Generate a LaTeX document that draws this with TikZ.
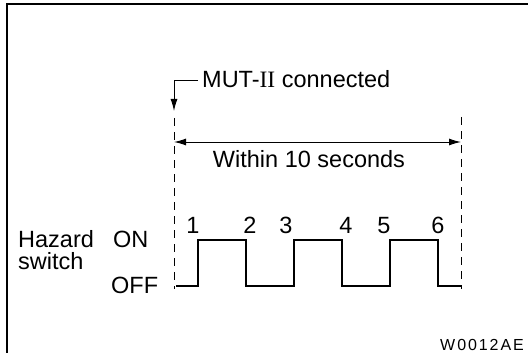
\documentclass[tikz,border=0pt]{standalone}
\usepackage{fontspec}
\setmainfont{Liberation Sans}
\newfontfamily\romfont{Liberation Serif}
\usepackage{tikz}
\usetikzlibrary{arrows.meta,
                positioning}

\tikzset{
    lbl/.style={anchor=base, inner sep=0pt, font=\fontsize{23.5}{28}\selectfont},
    guide/.style={line width=1pt, dash pattern=on 8pt off 6pt},
    wave/.style={line width=1.6pt},
    tip/.style={-{Latex[length=12pt,width=7pt]}, line width=1pt}
}

\begin{document}
\begin{tikzpicture}[x=1pt,y=-1pt]
        \useasboundingbox (0,0) rectangle (528,353);

        % frame
        \draw[line width=2pt] (7,353) -- (7,4.5) -- (528,4.5);

        % start / end of the window
        \coordinate (s) at (174,81);
        \coordinate (st) at (174,118);
        \coordinate (sb) at (174,289);
        \coordinate (et) at (461,117);
        \coordinate (eb) at (461,289);
        \draw[guide] (st) -- (sb);
        \draw[guide] (et) -- (eb);

        \node[lbl, anchor=base west] (mut) at (202,88) {MUT-{\romfont II} connected};
        \draw[tip] (mut.west |- s) ++(-4,0) coordinate (m) -- (s) -- (174,111);

        \coordinate (wl) at (174,142);
        \coordinate (wr) at (461,142);
        \draw[tip, {Latex[length=12pt,width=7pt]}-{Latex[length=12pt,width=7pt]}] (wl) -- (wr);
        \node[lbl] (win) at (309,167) {Within 10 seconds};

        % hazard switch signal
        \node[lbl, anchor=base west] (haz) at (18,247) {Hazard};
        \node[lbl, anchor=base west] (sw) at (18,269) {switch};
        \node[lbl, anchor=base west] (on) at (113,247) {ON};
        \node[lbl, anchor=base west] (off) at (111,293) {OFF};

        \draw[wave] (176,286)
            \foreach \x in {198,294,390} {
                -- (\x,286) -- (\x,240) -- (\x+48,240) -- (\x+48,286)
            } -- (461,286);

        \foreach \n/\x in {1/193,2/250,3/286,4/346,5/384,6/438}
            \node[lbl] (p\n) at (\x,233) {\n};

        \node[anchor=base east, inner sep=0pt, font=\fontsize{16}{19}\selectfont\addfontfeatures{LetterSpace=12}] (code) at (524,350) {W0012AE};
    \end{tikzpicture}
\end{document}
